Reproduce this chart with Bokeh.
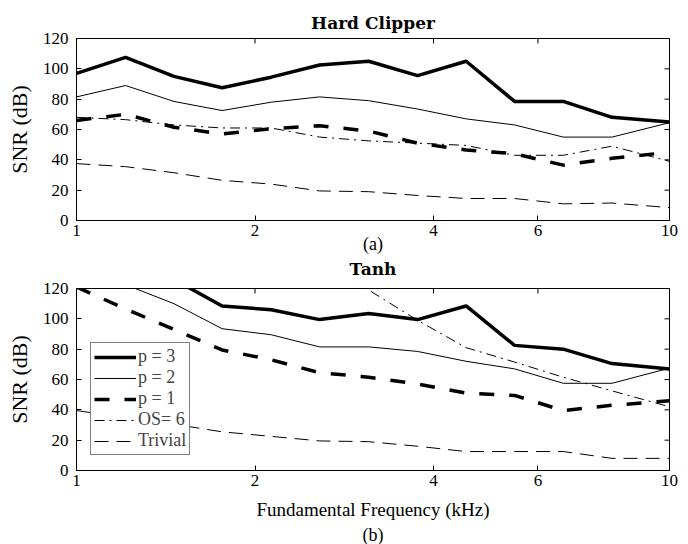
import math
from bokeh.plotting import figure
from bokeh.models import Range1d, FixedTicker, Legend, LegendItem, Title
from bokeh.layouts import column
from bokeh.embed import file_html
from bokeh.resources import INLINE

# ---------------- data ----------------
freq_khz = [1.0, 1.21, 1.46, 1.76, 2.13, 2.57, 3.11, 3.76, 4.54, 5.48, 6.62, 8.0, 10.0]
x_ticks = [1, 2, 4, 6, 10]
y_ticks = [0, 20, 40, 60, 80, 100, 120]

# Hard clipper (a)
hc_p3 = [97, 107.5, 95, 87.5, 94.5, 102.5, 105, 95.5, 105, 78.5, 78.5, 68, 65]
hc_p2 = [81.5, 89, 78.5, 72.5, 78, 81.5, 79, 73.5, 67, 63, 55, 55, 64.5]
hc_p1 = [66, 70, 61.5, 57, 60.5, 62.5, 59, 51, 46.5, 44, 36.5, 41, 45]
hc_os6 = [68, 66.5, 63, 61, 61, 55, 52.5, 51, 49.5, 43, 43, 49, 39]
hc_triv = [37.5, 35.5, 31.5, 26.5, 24, 19.5, 19, 16.5, 14.5, 14.5, 11, 11.5, 8.5]

# Tanh (b)
th_p3 = [145, 134, 126, 108.5, 106, 99.5, 103.5, 99.5, 108.5, 82.5, 80, 70.5, 67]
th_p2 = [128, 122.5, 110, 93.5, 89.5, 81.5, 81.5, 78.5, 72, 67, 57.5, 57.5, 67.5]
th_p1 = [121, 106.5, 93, 79.5, 73, 64.5, 61.5, 57, 51, 49.5, 39.5, 43, 46]
th_os6 = [215, 200, 186, 172, 160, 140, 119, 99, 81, 71.5, 61.5, 52.5, 42]
th_triv = [39.5, 35, 30.5, 25.5, 22.5, 19.5, 19, 16, 12.5, 12.5, 12.5, 8, 8]

labels = ["p = 3", "p = 2", "p = 1", "OS= 6", "Trivial"]

SERIF = "'Liberation Serif', 'Times New Roman', serif"
TITLE_FONT = "'DejaVu Serif', serif"


def style_axis(ax, size="17px"):
    ax.major_tick_in = 5
    ax.major_tick_out = 0
    ax.minor_tick_in = 0
    ax.minor_tick_out = 0
    ax.axis_line_color = "black"
    ax.major_tick_line_color = "black"
    ax.major_label_text_font = SERIF
    ax.major_label_text_font_size = size
    ax.major_label_text_color = "black"
    ax.axis_label_text_font = SERIF
    ax.axis_label_text_font_style = "normal"
    ax.axis_label_text_color = "black"


def panel_title(text, standoff, line_height=1.0):
    return Title(text=text, align="center", text_font=TITLE_FONT, text_font_size="17px",
                 text_font_style="bold", text_color="black", standoff=standoff,
                 text_line_height=line_height)


def make_fig(height, border_top, border_bottom, series, xlabel, xlabel_size,
             xlabel_standoff, legend):
    p = figure(width=680, height=height, x_axis_type="log", title=None,
               x_range=Range1d(1, 10), y_range=Range1d(0, 120),
               output_backend="svg", toolbar_location=None,
               min_border_left=76, min_border_right=11,
               min_border_top=border_top, min_border_bottom=border_bottom)
    p.grid.visible = False
    p.outline_line_color = "black"
    p.background_fill_color = "white"
    p.border_fill_color = "white"

    xa = p.xaxis[0]
    xa.ticker = FixedTicker(ticks=x_ticks, minor_ticks=[])
    style_axis(xa)
    xa.major_label_standoff = 4
    xa.axis_label = xlabel
    xa.axis_label_text_font_size = xlabel_size
    xa.axis_label_standoff = xlabel_standoff

    ya = p.yaxis[0]
    ya.ticker = FixedTicker(ticks=y_ticks, minor_ticks=[])
    style_axis(ya)
    ya.major_label_standoff = 8
    ya.axis_label = "SNR (dB)"
    ya.axis_label_text_font_size = "22px"
    ya.axis_label_standoff = 8

    # mirrored inward ticks on the top and right edges of the box
    p.scatter(x_ticks, [y_ticks[-1]] * len(x_ticks), marker="dash", size=10,
              angle=math.pi / 2, line_color="black", line_width=1)
    p.scatter([x_ticks[-1]] * len(y_ticks), y_ticks, marker="dash", size=10,
              line_color="black", line_width=1)

    s3, s2, s1, so, st = series
    r3 = p.line(freq_khz, s3, line_width=3.5, line_color="black")
    r2 = p.line(freq_khz, s2, line_width=1, line_color="black")
    r1 = p.line(freq_khz, s1, line_width=3.5, line_color="black", line_dash="15 15")
    ro = p.line(freq_khz, so, line_width=1, line_color="black", line_dash="10 5 2 5")
    rt = p.line(freq_khz, st, line_width=1, line_color="black", line_dash="14 8")

    if legend:
        items = [LegendItem(label=lab, renderers=[r]) for lab, r in zip(labels, [r3, r2, r1, ro, rt])]
        lg = Legend(items=items, location=(14, 15), margin=0, padding=3, spacing=0,
                    label_standoff=2, glyph_width=42, glyph_height=20, label_height=20,
                    label_text_font=SERIF, label_text_font_size="18px",
                    border_line_color="black", border_line_width=1,
                    background_fill_color="white", background_fill_alpha=1)
        p.add_layout(lg)
    return p


# top panel: "Hard Clipper" above, "(a)" as x label; the heading of the lower
# panel ("Tanh") sits in the gap between the two panels
p1 = make_fig(278, 38, 58, (hc_p3, hc_p2, hc_p1, hc_os6, hc_triv),
              "(a)", "18px", -5, False)
p1.add_layout(panel_title("Hard Clipper", 12), "above")
p1.add_layout(panel_title("Tanh", 0, 0.75), "below")

p2 = make_fig(266, 10, 74, (th_p3, th_p2, th_p1, th_os6, th_triv),
              "Fundamental Frequency (kHz)", "19px", 10, True)
sub = Title(text="(b)", align="center", text_font=SERIF, text_font_size="18px",
            text_font_style="normal", text_color="black", standoff=0)
p2.add_layout(sub, "below")

layout = column(p1, p2, spacing=0)
open("out.html", "w").write(file_html(layout, INLINE))
